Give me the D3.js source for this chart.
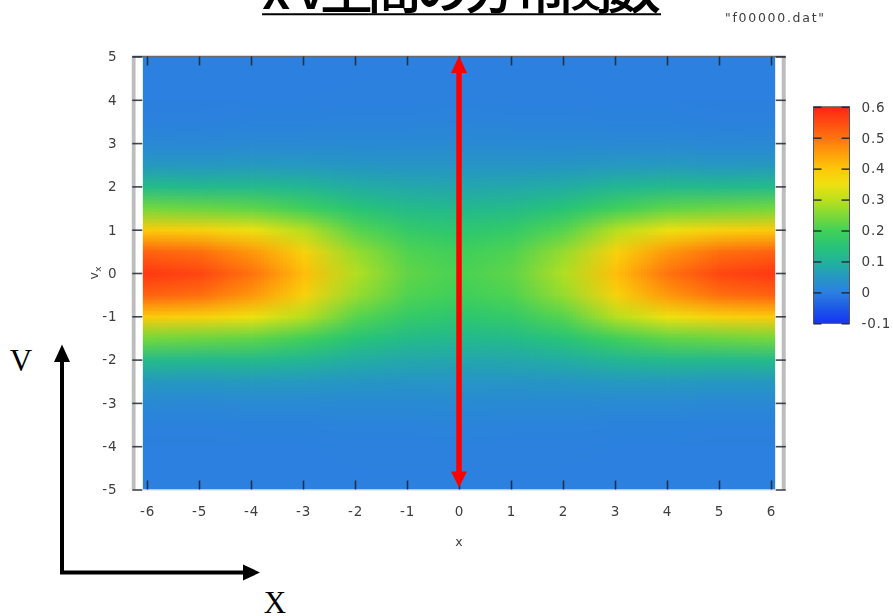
<!DOCTYPE html>
<html>
<head>
<meta charset="utf-8">
<script src="https://cdn.jsdelivr.net/npm/d3@7"></script>
<style>
  html, body { margin: 0; padding: 0; background: #fff; }
  svg { display: block; }
</style>
</head>
<body>
<svg id="chart" width="893" height="616"></svg>
<script>
// Tick values
const xTicks = [-6, -5, -4, -3, -2, -1, 0, 1, 2, 3, 4, 5, 6];
const vTicks = [-5, -4, -3, -2, -1, 0, 1, 2, 3, 4, 5];
const cbTicks = [-0.1, 0, 0.1, 0.2, 0.3, 0.4, 0.5, 0.6];

// Sample grid of the distribution f(x, v)
const xGrid = [-6, -5, -4, -3, -2, -1, 0, 1, 2, 3, 4, 5, 6];
const vGrid = [5, 4.5, 4, 3.5, 3, 2.5, 2, 1.5, 1, 0.5, 0, -0.5, -1, -1.5, -2, -2.5, -3, -3.5, -4, -4.5, -5];
const density = [
  [0.000, 0.000, 0.000, 0.000, 0.000, 0.000, 0.000, 0.000, 0.000, 0.000, 0.000, 0.000, 0.000],
  [0.000, 0.000, 0.000, 0.000, 0.001, 0.001, 0.001, 0.001, 0.001, 0.000, 0.000, 0.000, 0.000],
  [0.001, 0.001, 0.002, 0.002, 0.003, 0.003, 0.004, 0.003, 0.003, 0.002, 0.002, 0.001, 0.001],
  [0.005, 0.005, 0.006, 0.007, 0.008, 0.009, 0.010, 0.009, 0.008, 0.007, 0.006, 0.005, 0.005],
  [0.018, 0.017, 0.020, 0.020, 0.021, 0.021, 0.022, 0.021, 0.021, 0.020, 0.020, 0.017, 0.018],
  [0.052, 0.050, 0.054, 0.051, 0.046, 0.043, 0.043, 0.043, 0.046, 0.051, 0.054, 0.050, 0.052],
  [0.123, 0.119, 0.120, 0.108, 0.089, 0.079, 0.075, 0.079, 0.089, 0.108, 0.120, 0.119, 0.123],
  [0.241, 0.234, 0.224, 0.194, 0.150, 0.124, 0.117, 0.124, 0.150, 0.194, 0.224, 0.234, 0.241],
  [0.390, 0.378, 0.350, 0.294, 0.216, 0.173, 0.160, 0.173, 0.216, 0.294, 0.350, 0.378, 0.390],
  [0.519, 0.504, 0.457, 0.377, 0.269, 0.211, 0.193, 0.211, 0.269, 0.377, 0.457, 0.504, 0.519],
  [0.572, 0.555, 0.500, 0.410, 0.290, 0.225, 0.205, 0.225, 0.290, 0.410, 0.500, 0.555, 0.572],
  [0.519, 0.504, 0.457, 0.377, 0.269, 0.211, 0.193, 0.211, 0.269, 0.377, 0.457, 0.504, 0.519],
  [0.390, 0.378, 0.350, 0.294, 0.216, 0.173, 0.160, 0.173, 0.216, 0.294, 0.350, 0.378, 0.390],
  [0.241, 0.234, 0.224, 0.194, 0.150, 0.124, 0.117, 0.124, 0.150, 0.194, 0.224, 0.234, 0.241],
  [0.123, 0.119, 0.120, 0.108, 0.089, 0.079, 0.075, 0.079, 0.089, 0.108, 0.120, 0.119, 0.123],
  [0.052, 0.050, 0.054, 0.051, 0.046, 0.043, 0.043, 0.043, 0.046, 0.051, 0.054, 0.050, 0.052],
  [0.018, 0.017, 0.020, 0.020, 0.021, 0.021, 0.022, 0.021, 0.021, 0.020, 0.020, 0.017, 0.018],
  [0.005, 0.005, 0.006, 0.007, 0.008, 0.009, 0.010, 0.009, 0.008, 0.007, 0.006, 0.005, 0.005],
  [0.001, 0.001, 0.002, 0.002, 0.003, 0.003, 0.004, 0.003, 0.003, 0.002, 0.002, 0.001, 0.001],
  [0.000, 0.000, 0.000, 0.000, 0.001, 0.001, 0.001, 0.001, 0.001, 0.000, 0.000, 0.000, 0.000],
  [0.000, 0.000, 0.000, 0.000, 0.000, 0.000, 0.000, 0.000, 0.000, 0.000, 0.000, 0.000, 0.000]
];

// Jet-like palette
const colorStops = [-0.1, -0.05, 0, 0.05, 0.1, 0.15, 0.2, 0.25, 0.3, 0.35, 0.4, 0.45, 0.5, 0.55, 0.6];
const colorRamp = ["#1434f5", "#1d5ae6", "#2c80e0", "#2698c2", "#22b39a", "#28c477", "#42d158",
                   "#7fd938", "#bde01d", "#eee010", "#ffc60a", "#ff9e0a", "#ff720e", "#ff4a12", "#ff2414"];

const svg = d3.select("#chart");
const defs = svg.append("defs");
defs.append("filter").attr("id", "soft")
  .append("feGaussianBlur").attr("stdDeviation", 0.45);

const x = d3.scaleLinear().domain([-6, 6]).range([147, 771]);
const y = d3.scaleLinear().domain([-5, 5]).range([489.5, 56.5]);
const color = d3.scaleLinear().domain(colorStops).range(colorRamp)
  .interpolate(d3.interpolateRgb).clamp(true);

const frameL = x(-2 * Math.PI), frameR = x(2 * Math.PI);
const heatL = x(-6.08), heatR = x(6.08);

// Heat map: one pixel per grid sample, smoothly scaled up
const nx = xGrid.length, nv = vGrid.length;
const cnv = document.createElement("canvas");
cnv.width = nx; cnv.height = nv;
const ctx = cnv.getContext("2d");
const img = ctx.createImageData(nx, nv);
density.forEach((row, j) => row.forEach((val, i) => {
  const c = d3.rgb(color(val));
  const k = 4 * (j * nx + i);
  img.data[k] = c.r; img.data[k + 1] = c.g; img.data[k + 2] = c.b; img.data[k + 3] = 255;
}));
ctx.putImageData(img, 0, 0);

defs.append("clipPath").attr("id", "heatClip")
  .append("rect").attr("x", heatL).attr("y", y(5))
  .attr("width", heatR - heatL).attr("height", y(-5) - y(5));

const dx = (xGrid[1] - xGrid[0]) / 2, dv = (vGrid[0] - vGrid[1]) / 2;
const ix0 = x(xGrid[0] - dx), ix1 = x(xGrid[nx - 1] + dx);
const iy0 = y(vGrid[0] + dv), iy1 = y(vGrid[nv - 1] - dv);
svg.append("image")
  .attr("href", cnv.toDataURL())
  .attr("x", ix0).attr("y", iy0)
  .attr("width", ix1 - ix0).attr("height", iy1 - iy0)
  .attr("preserveAspectRatio", "none")
  .attr("clip-path", "url(#heatClip)");

// Frame: side bars and top/bottom border
svg.append("rect").attr("x", frameL - 0.5).attr("y", y(5)).attr("width", 3.8)
  .attr("height", y(-5) - y(5)).attr("fill", "#bdbdbd");
svg.append("rect").attr("x", frameR - 4).attr("y", y(5)).attr("width", 4)
  .attr("height", y(-5) - y(5)).attr("fill", "#bdbdbd");
svg.append("line").attr("x1", frameL).attr("x2", frameR).attr("y1", y(5)).attr("y2", y(5))
  .attr("stroke", "#6a6a6a").attr("stroke-width", 1.6);
svg.append("line").attr("x1", heatL).attr("x2", heatR).attr("y1", y(-5) + 0.5).attr("y2", y(-5) + 0.5)
  .attr("stroke", "#cfdcf0").attr("stroke-width", 1);

const tickStroke = "#1e2430";
function styleAxis(g) {
  g.select(".domain").remove();
  g.selectAll(".tick line").attr("stroke", tickStroke).attr("stroke-width", 1.6).attr("stroke-opacity", 0.85);
  g.selectAll(".tick text")
    .attr("fill", "#3e3e3e")
    .attr("font-family", "'DejaVu Sans', sans-serif")
    .attr("font-size", 13.5)
    .attr("letter-spacing", 0.8)
    .attr("filter", "url(#soft)");
}

// Axes with inward ticks on all four sides
svg.append("g").attr("transform", `translate(0,${y(-5)})`)
  .call(d3.axisBottom(x).tickValues(xTicks).tickSizeInner(-9).tickSizeOuter(0)
    .tickPadding(17).tickFormat(d => String(d)))
  .call(styleAxis);
svg.append("g").attr("transform", `translate(0,${y(5)})`)
  .call(d3.axisTop(x).tickValues(xTicks).tickSizeInner(-9).tickSizeOuter(0).tickFormat(""))
  .call(styleAxis);
svg.append("g").attr("transform", `translate(${frameL},0)`)
  .call(d3.axisLeft(y).tickValues(vTicks).tickSizeInner(-10).tickSizeOuter(0)
    .tickPadding(15).tickFormat(d => String(d)))
  .call(styleAxis);
svg.append("g").attr("transform", `translate(${frameR},0)`)
  .call(d3.axisRight(y).tickValues(vTicks).tickSizeInner(-10).tickSizeOuter(0).tickFormat(""))
  .call(styleAxis);

// Axis titles
svg.append("text").attr("x", x(0)).attr("y", 546)
  .attr("text-anchor", "middle").attr("fill", "#3e3e3e")
  .attr("font-family", "'DejaVu Sans', sans-serif").attr("font-size", 12.5)
  .attr("filter", "url(#soft)").text("x");
const vLabel = svg.append("text")
  .attr("transform", `translate(98,${y(0)}) rotate(-90)`)
  .attr("text-anchor", "middle").attr("fill", "#3e3e3e")
  .attr("font-family", "'DejaVu Sans', sans-serif").attr("font-size", 12.5)
  .attr("filter", "url(#soft)");
vLabel.append("tspan").text("v");
vLabel.append("tspan").attr("font-size", 9.5).attr("dy", 3).text("x");

// Key label
svg.append("text").attr("x", 725).attr("y", 21.5)
  .attr("fill", "#3e3e3e").attr("font-family", "'DejaVu Sans', sans-serif")
  .attr("font-size", 12.5).attr("textLength", 99).attr("lengthAdjust", "spacing")
  .attr("filter", "url(#soft)").text("\"f00000.dat\"");

// Colour box
const cb = d3.scaleLinear().domain([-0.1, 0.6]).range([323.3, 106.8]);
const cbL = 813.5, cbW = 36;
const grad = defs.append("linearGradient").attr("id", "cbGrad")
  .attr("x1", 0).attr("y1", 1).attr("x2", 0).attr("y2", 0);
colorStops.forEach((s, i) => grad.append("stop")
  .attr("offset", (s - colorStops[0]) / (colorStops[colorStops.length - 1] - colorStops[0]))
  .attr("stop-color", colorRamp[i]));
svg.append("rect").attr("x", cbL).attr("y", cb(0.6)).attr("width", cbW)
  .attr("height", cb(-0.1) - cb(0.6)).attr("fill", "url(#cbGrad)")
  .attr("stroke", "#555").attr("stroke-width", 1);
svg.append("g").attr("transform", `translate(${cbL},0)`)
  .call(d3.axisLeft(cb).tickValues(cbTicks).tickSizeInner(-8).tickSizeOuter(0).tickFormat(""))
  .call(styleAxis);
svg.append("g").attr("transform", `translate(${cbL + cbW},0)`)
  .call(d3.axisRight(cb).tickValues(cbTicks).tickSizeInner(-8).tickSizeOuter(0)
    .tickPadding(12).tickFormat(d => String(d)))
  .call(styleAxis)
  .selectAll(".tick text").attr("text-anchor", "start");

// Red double-headed arrow along x = 0
const ax = x(0), aTop = y(5) - 0.5, aBot = y(-5) - 2;
svg.append("line").attr("x1", ax).attr("x2", ax).attr("y1", aTop + 14).attr("y2", aBot - 14)
  .attr("stroke", "#ff0000").attr("stroke-width", 5.5);
svg.append("path").attr("fill", "#ff0000")
  .attr("d", `M${ax},${aTop}L${ax - 8},${aTop + 17}L${ax + 8},${aTop + 17}Z`);
svg.append("path").attr("fill", "#ff0000")
  .attr("d", `M${ax},${aBot}L${ax - 8},${aBot - 16}L${ax + 8},${aBot - 16}Z`);

// Phase-space axes sketch (x horizontal, v vertical)
svg.append("path").attr("fill", "none").attr("stroke", "#000").attr("stroke-width", 4)
  .attr("d", "M62,360V572.5H244");
svg.append("path").attr("fill", "#000").attr("d", "M62,344.5L54,362L70,362Z");
svg.append("path").attr("fill", "#000").attr("d", "M260,572.5L243,564.5L243,580.5Z");
svg.append("text").attr("x", 21).attr("y", 371).attr("text-anchor", "middle")
  .attr("font-family", "'Liberation Serif', serif").attr("font-size", 31).text("V");
svg.append("text").attr("x", 275).attr("y", 613).attr("text-anchor", "middle")
  .attr("font-family", "'Liberation Serif', serif").attr("font-size", 31).text("X");

// Title
svg.append("text").attr("x", 262).attr("y", 9)
  .attr("font-family", "'Noto Sans CJK JP', sans-serif").attr("font-size", 54)
  .attr("font-weight", 500)
  .attr("textLength", 399).attr("lengthAdjust", "spacing")
  .attr("fill", "#000").text("x-v空間の分布関数");
svg.append("line").attr("x1", 262).attr("x2", 661).attr("y1", 14.2).attr("y2", 14.2)
  .attr("stroke", "#000").attr("stroke-width", 2);
</script>
</body>
</html>
